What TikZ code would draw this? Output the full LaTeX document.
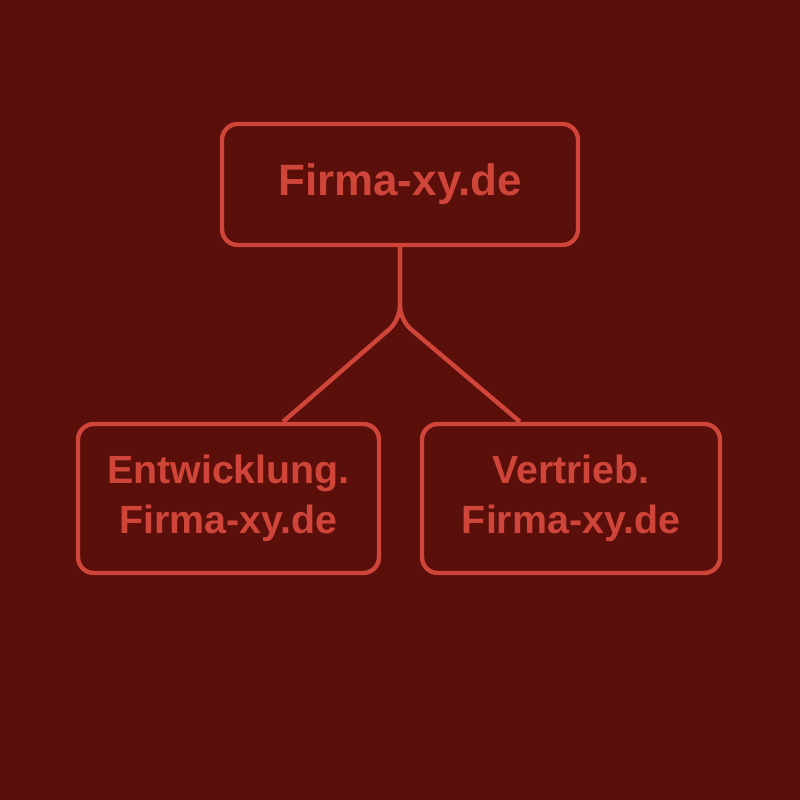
\documentclass[tikz,border=0pt]{standalone}
\usepackage{fontspec}
\setmainfont{Liberation Sans}
\usetikzlibrary{calc}

\definecolor{hintergrund}{HTML}{5A0F0B}
\definecolor{rot}{HTML}{D0453A}

\begin{document}
\begin{tikzpicture}[every node/.style={rectangle, draw=rot, line width=1.25pt, rounded corners=4.5pt, text=rot, align=center}]

% Hintergrund
\fill[hintergrund] (0,0) rectangle (8,8);
\useasboundingbox (0,0) rectangle (8,8);

% Knoten
\node[minimum width=3.56cm, minimum height=1.21cm, font=\fontsize{12.5}{15}\selectfont\bfseries] (haupt) at (4,6.155) {Firma-xy.de};
\node[minimum width=3.01cm, minimum height=1.49cm, font=\fontsize{11.2}{14.3}\selectfont\bfseries] (entw) at (2.285,3.015) {Entwicklung.\\Firma-xy.de};
\node[minimum width=2.98cm, minimum height=1.49cm, font=\fontsize{11.2}{14.3}\selectfont\bfseries] (vertr) at (5.71,3.015) {Vertrieb.\\Firma-xy.de};

\coordinate (gabel) at (4,4.8);

% Verbindungen
\draw[rot, line width=1.25pt, rounded corners=4pt] ($(entw.north)+(0.545,0)$) -- (gabel) -- (haupt.south);
\draw[rot, line width=1.25pt, rounded corners=4pt] ($(vertr.north)+(-0.51,0)$) -- (gabel) -- (haupt.south);
\end{tikzpicture}
\end{document}
